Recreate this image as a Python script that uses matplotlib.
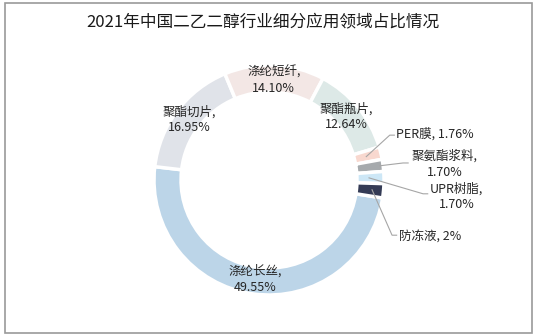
import numpy as np
import matplotlib
matplotlib.use("Agg")
import matplotlib.pyplot as plt
from matplotlib.patches import Rectangle

plt.rcParams['font.family'] = ['Noto Sans CJK SC', 'DejaVu Sans']

# data, clockwise from the right side
names = ["涤纶长丝", "聚酯切片", "涤纶短纤", "聚酯瓶片", "PER膜", "聚氨酯浆料", "UPR树脂", "防冻液"]
values = [49.55, 16.95, 14.10, 12.64, 1.76, 1.70, 1.70, 2.0]
pct_text = ["49.55%", "16.95%", "14.10%", "12.64%", "1.76%", "1.70%", "1.70%", "2%"]
colors = ["#bcd5e8", "#e0e3e9", "#f3e7e5", "#dde9e7", "#f8d8cf", "#a6aaad", "#cde7f6", "#343b55"]

W, H = 537, 336
fig = plt.figure(figsize=(W / 100, H / 100), dpi=100)
fig.patches.append(Rectangle((5 / W, 3 / H), 527 / W, 330 / H, transform=fig.transFigure,
                             fill=False, edgecolor="#9a9a9a", linewidth=1.2))

fig.text(263 / W, 1 - 22 / H, "2021年中国二乙二醇行业细分应用领域占比情况",
         ha="center", va="center", fontsize=12, color="#1a1a1a")

cx, cy, r = 269, 180, 115
ax = fig.add_axes([(cx - r) / W, (H - cy - r) / H, 2 * r / W, 2 * r / H])
wedges, _ = ax.pie(values, colors=colors, startangle=-9, counterclock=False, radius=1,
                   wedgeprops=dict(width=0.235, edgecolor="white", linewidth=2.5))
ax.set_xlim(-1, 1)
ax.set_ylim(-1, 1)
ax.axis("off")

# labels inside the ring for the big slices
for i in range(4):
    w = wedges[i]
    mid = np.deg2rad((w.theta1 + w.theta2) / 2)
    ax.text(0.87 * np.cos(mid), 0.87 * np.sin(mid), names[i] + ",\n" + pct_text[i],
            ha="center", va="center", fontsize=9, color="#262626", linespacing=1.3)

# small slices with leader lines
small = {
    4: dict(txt="PER膜, 1.76%", pos=(1.10, 0.40), ha="left", r0=0.87,
            path=[(1.05, 0.39), (1.09, 0.39)]),
    5: dict(txt="聚氨酯浆料,\n1.70%", pos=(1.53, 0.14), ha="center", r0=0.97,
            path=[(1.165, 0.148), (1.21, 0.148)]),
    6: dict(txt="UPR树脂,\n1.70%", pos=(1.63, -0.145), ha="center", r0=0.87,
            path=[(1.34, -0.12), (1.38, -0.12)]),
    7: dict(txt="防冻液, 2%", pos=(1.13, -0.487), ha="left", r0=0.9,
            path=[(1.07, -0.48), (1.11, -0.48)]),
}
for i, s in small.items():
    w = wedges[i]
    mid = np.deg2rad((w.theta1 + w.theta2) / 2)
    xs = [s["r0"] * np.cos(mid)] + [p[0] for p in s["path"]]
    ys = [s["r0"] * np.sin(mid)] + [p[1] for p in s["path"]]
    ax.plot(xs, ys, color="#a6a6a6", linewidth=0.8, clip_on=False)
    ax.text(s["pos"][0], s["pos"][1], s["txt"], ha=s["ha"], va="center", fontsize=9,
            color="#262626", linespacing=1.3, multialignment="center")

fig.savefig("out.png", dpi=100)
